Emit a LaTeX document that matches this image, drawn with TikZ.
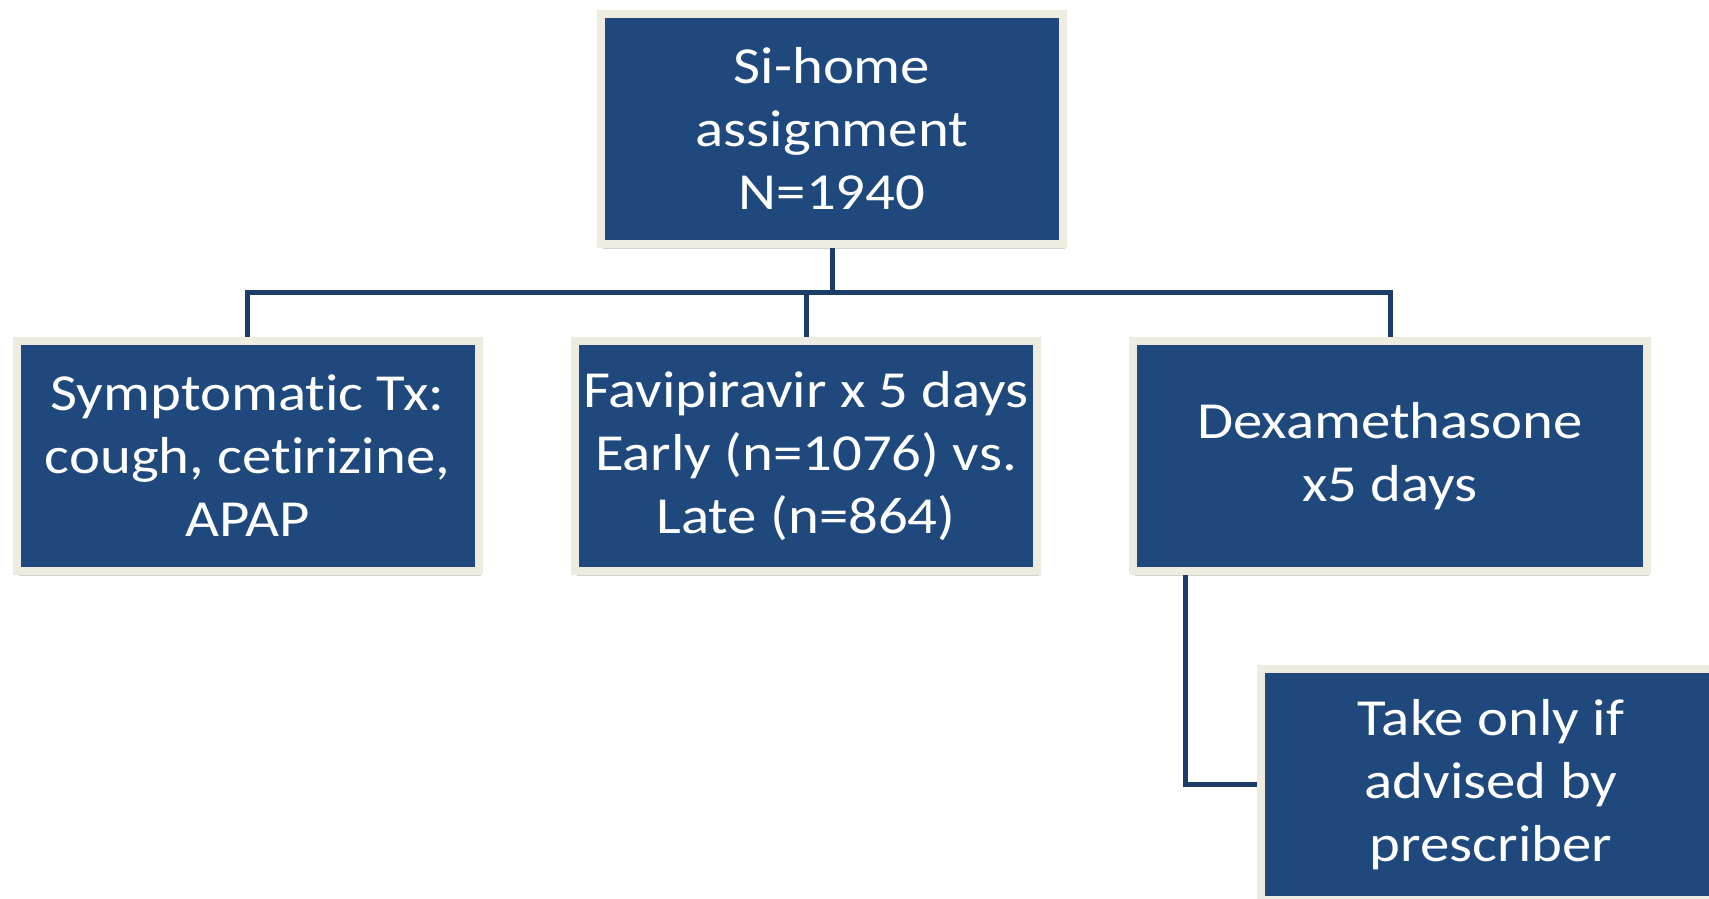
\documentclass[tikz,border=0pt]{standalone}
\usepackage{fontspec}
\setmainfont{Carlito}[FakeStretch=1.13, Ligatures=NoCommon]
\usepackage{tikz}
\usetikzlibrary{positioning}
\usetikzlibrary{shadows}
\usetikzlibrary{calc}
\definecolor{armblue}{HTML}{1F497D}
\definecolor{armrim}{HTML}{EEECE1}
\definecolor{linkblue}{HTML}{1C3D68}
\tikzset{
	arm/.style={
		draw=armrim, fill=armblue, line width=4pt,
		text=white, align=center, inner sep=0pt,
		font=\fontsize{26}{31.5}\selectfont,
		minimum width=231pt, minimum height=115pt,
		drop shadow={shadow xshift=1pt, shadow yshift=-2.5pt, opacity=0.35}
	},
	link/.style={
		draw=linkblue, line width=2.5pt
	},
	down and across/.style={
		to path={(\tikztostart) |- ($(\tikztostart)!#1!(\tikztotarget)$) -| (\tikztotarget)}
	},
	down and across/.default=0.5
}
\begin{document}
\begin{tikzpicture}[x=0.5pt, y=-0.5pt]
    \useasboundingbox (0,0) rectangle (1709,899);
    \clip (0,0) rectangle (1709,899);

    \node[arm] (Assignment) at (832,129) {Si-home\\assignment\\N=1940};
    \node[arm] (Symptomatic) at (247.5,456) {Symptomatic Tx:\\cough, cetirizine,\\APAP};
    \node[arm] (Favipiravir) at (806,456) {Favipiravir x 5 days\\Early (n=1076) vs.\\Late (n=864)};
    \node[arm, minimum width=257pt] (Dexamethasone) at (1390,456) {Dexamethasone\\x5 days};
    \node[arm, minimum width=230pt, minimum height=115.5pt] (Prescriber) at (1491,784.5) {Take only if\\advised by\\prescriber};

    \foreach \arm in {Symptomatic, Favipiravir, Dexamethasone}
        \draw[link] (Assignment.south) to[down and across] (\arm.north);
    \draw[link] ([xshift=28pt]Dexamethasone.south west) |- (Prescriber.west);
\end{tikzpicture}
\end{document}
